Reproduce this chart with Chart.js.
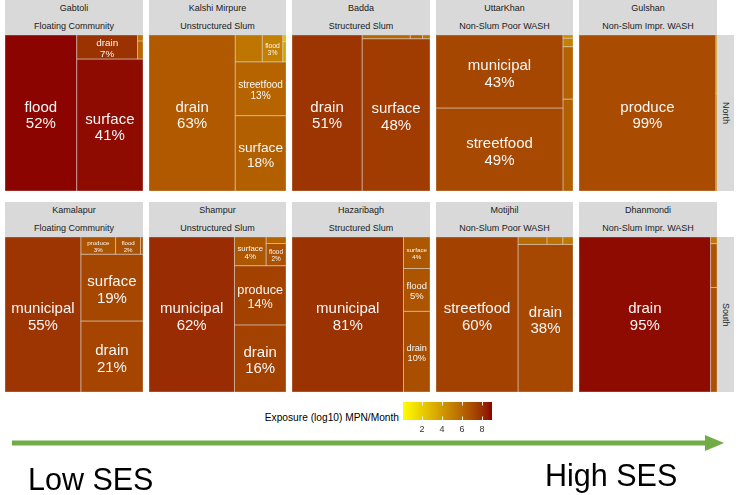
<!doctype html>
<html>
<head>
<meta charset="utf-8">
<script src="https://cdn.jsdelivr.net/npm/chart.js@4.4.0/dist/chart.umd.min.js"></script>
<style>
  body { margin: 0; background: #fff; font-family: "Liberation Sans", Arial, sans-serif; }
  #fig { position: relative; width: 740px; height: 495px; overflow: hidden; }
  .strip { position: absolute; background: #d9d9d9; color: #1a1a1a; font-size: 9px; text-align: center; }
  .strip div { height: 17.5px; line-height: 17.5px; white-space: nowrap; }
  .zone { position: absolute; background: #d9d9d9; color: #1a1a1a; font-size: 9px;
          writing-mode: vertical-rl; text-align: center; line-height: 17px; }
  canvas { position: absolute; }
  .txt { position: absolute; white-space: nowrap; color: #000; }
</style>
</head>
<body>
<div id="fig"></div>
<script>
// ---- data ----
const sites = ['Gabtoli', 'Kalshi Mirpure', 'Badda', 'UttarKhan', 'Gulshan',
               'Kamalapur', 'Shampur', 'Hazaribagh', 'Motijhil', 'Dhanmondi'];
const siteTypes = ['Floating Community', 'Unstructured Slum', 'Structured Slum', 'Non-Slum Poor WASH', 'Non-Slum Impr. WASH',
                   'Floating Community', 'Unstructured Slum', 'Structured Slum', 'Non-Slum Poor WASH', 'Non-Slum Impr. WASH'];
const zones = ['North', 'South'];

// exposure pathways per site, share of total exposure (%), and log10 exposure (MPN/month)
const pathways = [
  ['flood', 'surface', 'drain', 'municipal', 'produce'],
  ['drain', 'surface', 'streetfood', 'municipal', 'flood', 'produce', 'bathing'],
  ['drain', 'surface', 'municipal', 'produce', 'flood'],
  ['streetfood', 'municipal', 'drain', 'surface', 'produce', 'flood'],
  ['produce', 'drain', 'flood'],
  ['municipal', 'drain', 'surface', 'produce', 'flood', 'streetfood'],
  ['municipal', 'drain', 'produce', 'surface', 'flood', 'streetfood'],
  ['municipal', 'drain', 'flood', 'surface'],
  ['streetfood', 'drain', 'municipal', 'produce', 'surface'],
  ['drain', 'municipal', 'surface', 'produce']
];
const shares = [
  [52.0, 40.6, 6.8, 0.45, 0.15],
  [62.9, 17.9, 12.8, 3.4, 2.6, 0.3, 0.1],
  [50.8, 48.0, 0.85, 0.22, 0.13],
  [49.3, 43.4, 4.3, 2.45, 0.4, 0.15],
  [99.2, 0.5, 0.3],
  [55.0, 20.6, 19.4, 2.8, 2.0, 0.2],
  [62.3, 16.3, 14.4, 4.3, 2.1, 0.6],
  [80.8, 10.0, 5.3, 3.9],
  [59.9, 38.2, 1.0, 0.55, 0.35],
  [95.4, 3.1, 1.3, 0.2]
];
const exposures = [
  [8.95, 8.85, 7.9, 6.0, 5.5],
  [6.5, 6.3, 6.1, 5.4, 5.0, 3.5, 2.5],
  [7.8, 7.6, 6.0, 6.1, 5.6],
  [7.1, 7.2, 6.3, 6.2, 5.0, 4.5],
  [7.0, 5.0, 4.0],
  [7.8, 7.25, 7.2, 6.7, 6.8, 6.5],
  [8.1, 7.4, 7.4, 6.6, 6.8, 6.1],
  [7.9, 6.9, 6.7, 6.6],
  [7.4, 7.15, 5.9, 5.6, 5.3],
  [8.85, 6.8, 6.7, 5.3]
];
const expRange = [0.1, 9.0];
const legendTicks = [2, 4, 6, 8];
const lowColor = '#FFFF00', highColor = '#8B0000';

// ---- colour scale (interpolated in CIELAB like ggplot) ----
const WX = 0.95047, WZ = 1.08883;
function toLin(c) { c /= 255; return c <= 0.04045 ? c / 12.92 : Math.pow((c + 0.055) / 1.055, 2.4); }
function fromLin(c) { c = c <= 0.0031308 ? 12.92 * c : 1.055 * Math.pow(c, 1 / 2.4) - 0.055; return Math.round(Math.max(0, Math.min(1, c)) * 255); }
function fl(t) { return t > 0.008856 ? Math.cbrt(t) : 7.787 * t + 16 / 116; }
function flInv(t) { return t > 0.206893 ? t * t * t : (t - 16 / 116) / 7.787; }
function toLab(hex) {
  const n = parseInt(hex.slice(1), 16);
  const r = toLin(n >> 16 & 255), g = toLin(n >> 8 & 255), b = toLin(n & 255);
  const x = (0.4124 * r + 0.3576 * g + 0.1805 * b) / WX;
  const y = 0.2126 * r + 0.7152 * g + 0.0722 * b;
  const z = (0.0193 * r + 0.1192 * g + 0.9505 * b) / WZ;
  return [116 * fl(y) - 16, 500 * (fl(x) - fl(y)), 200 * (fl(y) - fl(z))];
}
function fromLab(L, a, b) {
  const fy = (L + 16) / 116, fx = fy + a / 500, fz = fy - b / 200;
  const x = flInv(fx) * WX, y = flInv(fy), z = flInv(fz) * WZ;
  const r = 3.2406 * x - 1.5372 * y - 0.4986 * z;
  const g = -0.9689 * x + 1.8758 * y + 0.0415 * z;
  const bb = 0.0557 * x - 0.2040 * y + 1.0570 * z;
  return 'rgb(' + fromLin(r) + ',' + fromLin(g) + ',' + fromLin(bb) + ')';
}
const labLo = toLab(lowColor), labHi = toLab(highColor);
function expColor(e) {
  const t = Math.max(0, Math.min(1, (e - expRange[0]) / (expRange[1] - expRange[0])));
  return fromLab(labLo[0] + (labHi[0] - labLo[0]) * t, labLo[1] + (labHi[1] - labLo[1]) * t, labLo[2] + (labHi[2] - labLo[2]) * t);
}

// ---- squarified treemap in the unit square ----
function worstRatio(row, side) {
  const sum = row.reduce((s, d) => s + d.v, 0), thick = sum / side;
  let m = 0;
  row.forEach(d => { const len = d.v / thick; m = Math.max(m, thick / len, len / thick); });
  return m;
}
function squarify(vals) {
  const items = vals.map((v, i) => ({ v, i })).sort((a, b) => b.v - a.v);
  const total = items.reduce((s, d) => s + d.v, 0);
  items.forEach(d => d.v /= total);
  let x0 = 0, y0 = 0, w = 1, h = 1, k = 0;
  const out = [];
  while (k < items.length) {
    const vertical = w >= h, side = vertical ? h : w;
    let n = 1, best = worstRatio(items.slice(k, k + 1), side);
    while (k + n < items.length) {
      const r = worstRatio(items.slice(k, k + n + 1), side);
      if (r > best) break;
      best = r; n++;
    }
    const row = items.slice(k, k + n);
    const thick = row.reduce((s, d) => s + d.v, 0) / side;
    let off = 0;
    row.forEach(d => {
      const len = d.v / thick;
      out[d.i] = vertical ? { x: x0, y: y0 + off, w: thick, h: len } : { x: x0 + off, y: y0, w: len, h: thick };
      off += len;
    });
    if (vertical) { x0 += thick; w -= thick; } else { y0 += thick; h -= thick; }
    k += n;
  }
  return out;
}

const FONT = '"Liberation Sans", Arial, sans-serif';
const treemapPlugin = {
  id: 'treemap',
  afterDatasetsDraw(chart, args, opts) {
    const ctx = chart.ctx, xs = chart.scales.x, ys = chart.scales.y;
    const rects = opts.tiles.map(t => {
      const x0 = xs.getPixelForValue(t.x), x1 = xs.getPixelForValue(t.x + t.w);
      const y0 = ys.getPixelForValue(t.y + t.h), y1 = ys.getPixelForValue(t.y);
      return { x: x0, y: y0, w: x1 - x0, h: y1 - y0, t };
    });
    ctx.save();
    rects.forEach(r => { ctx.fillStyle = r.t.color; ctx.fillRect(r.x, r.y, r.w, r.h); });
    ctx.strokeStyle = 'rgba(215,200,190,0.55)';
    ctx.lineWidth = 0.8;
    rects.forEach(r => ctx.strokeRect(r.x, r.y, r.w, r.h));
    ctx.fillStyle = '#f7f7f7';
    ctx.textAlign = 'center';
    ctx.textBaseline = 'alphabetic';
    rects.forEach(r => {
      const l1 = r.t.label, l2 = Math.round(r.t.share) + '%';
      ctx.font = '15px ' + FONT;
      const tw = Math.max(ctx.measureText(l1).width, ctx.measureText(l2).width);
      const s = Math.min(15, 15 * (r.w - 6) / tw, (r.h - 6) / 1.82);
      if (s < 5.5) return;
      ctx.font = s + 'px ' + FONT;
      const cx = r.x + r.w / 2, cy = r.y + r.h / 2;
      ctx.fillText(l1, cx, cy - 0.1 * s);
      ctx.fillText(l2, cx, cy + s);
    });
    ctx.restore();
  }
};

// ---- layout ----
const fig = document.getElementById('fig');
const stripTop = [0, 202], tileTop = [35, 237], tileH = [156, 155];
function colLeft(c) { return Math.round(5 + c * 143.5); }

sites.forEach((name, i) => {
  const r = Math.floor(i / 5), c = i % 5;
  const left = colLeft(c), w = Math.round(5 + c * 143.5 + 137.5) - left;
  const strip = document.createElement('div');
  strip.className = 'strip';
  Object.assign(strip.style, { left: left + 'px', top: stripTop[r] + 'px', width: w + 'px', height: '35px' });
  strip.innerHTML = '<div>' + name + '</div><div>' + siteTypes[i] + '</div>';
  fig.appendChild(strip);

  const cv = document.createElement('canvas');
  cv.width = w; cv.height = tileH[r];
  Object.assign(cv.style, { left: left + 'px', top: tileTop[r] + 'px', width: w + 'px', height: tileH[r] + 'px' });
  fig.appendChild(cv);

  const boxes = squarify(shares[i]);
  const tiles = boxes.map((b, j) => Object.assign({}, b, {
    label: pathways[i][j], share: shares[i][j], color: expColor(exposures[i][j])
  }));
  new Chart(cv, {
    type: 'scatter',
    data: { datasets: [{ data: [] }] },
    options: {
      responsive: false, animation: false, events: [],
      layout: { padding: 0 },
      scales: {
        x: { type: 'linear', min: 0, max: 1, display: false },
        y: { type: 'linear', min: 0, max: 1, display: false }
      },
      plugins: { legend: { display: false }, tooltip: { enabled: false }, treemap: { tiles } }
    },
    plugins: [treemapPlugin]
  });
});

zones.forEach((z, r) => {
  const d = document.createElement('div');
  d.className = 'zone';
  Object.assign(d.style, { left: '717px', top: tileTop[r] + 'px', width: '17px', height: tileH[r] + 'px' });
  d.textContent = z;
  fig.appendChild(d);
});

// ---- colour bar legend ----
const legendTitle = document.createElement('div');
legendTitle.className = 'txt';
Object.assign(legendTitle.style, { right: (740 - 399) + 'px', top: '411px', fontSize: '10.2px', lineHeight: '13px' });
legendTitle.textContent = 'Exposure (log10) MPN/Month';
fig.appendChild(legendTitle);

const cb = document.createElement('canvas');
cb.width = 89; cb.height = 36;
Object.assign(cb.style, { left: '403px', top: '402px', width: '89px', height: '36px' });
fig.appendChild(cb);
const colorbarPlugin = {
  id: 'colorbar',
  afterDraw(chart) {
    const { ctx, chartArea: a } = chart, xs = chart.scales.x;
    const grad = ctx.createLinearGradient(a.left, 0, a.right, 0);
    for (let k = 0; k <= 20; k++) {
      const e = expRange[0] + (expRange[1] - expRange[0]) * k / 20;
      grad.addColorStop((xs.getPixelForValue(e) - a.left) / (a.right - a.left), expColor(e));
    }
    ctx.save();
    ctx.fillStyle = grad;
    ctx.fillRect(a.left, a.top, a.right - a.left, a.bottom - a.top);
    ctx.strokeStyle = 'rgba(255,255,255,0.9)';
    ctx.lineWidth = 1;
    legendTicks.forEach(v => {
      const px = Math.round(xs.getPixelForValue(v)) + 0.5;
      ctx.beginPath();
      ctx.moveTo(px, a.top); ctx.lineTo(px, a.top + 3.5);
      ctx.moveTo(px, a.bottom); ctx.lineTo(px, a.bottom - 3.5);
      ctx.stroke();
    });
    ctx.restore();
  }
};
new Chart(cb, {
  type: 'scatter',
  data: { datasets: [{ data: [] }] },
  options: {
    responsive: false, animation: false, events: [],
    layout: { padding: 0 },
    scales: {
      x: {
        type: 'linear', min: expRange[0], max: expRange[1], position: 'bottom',
        grid: { display: false, drawTicks: false }, border: { display: false },
        ticks: { font: { size: 9, family: FONT }, color: '#333', padding: 4, autoSkip: false, maxRotation: 0 },
        afterBuildTicks: s => { s.ticks = legendTicks.map(v => ({ value: v })); },
        afterFit: s => { s.height = 18; }
      },
      y: { display: false, min: 0, max: 1 }
    },
    plugins: { legend: { display: false }, tooltip: { enabled: false } }
  },
  plugins: [colorbarPlugin]
});

// ---- SES arrow and labels ----
fig.insertAdjacentHTML('beforeend',
  '<svg width="740" height="495" style="position:absolute;left:0;top:0">' +
  '<line x1="12" y1="443" x2="708" y2="443" stroke="#70AD47" stroke-width="5"/>' +
  '<polygon points="705,435 724,443 705,451" fill="#70AD47"/>' +
  '<text x="28" y="490" font-size="30.5" font-family=\'"Liberation Sans", Arial, sans-serif\' fill="#000">Low SES</text>' +
  '<text x="545" y="486" font-size="30.5" font-family=\'"Liberation Sans", Arial, sans-serif\' fill="#000">High SES</text>' +
  '</svg>');
</script>
</body>
</html>
